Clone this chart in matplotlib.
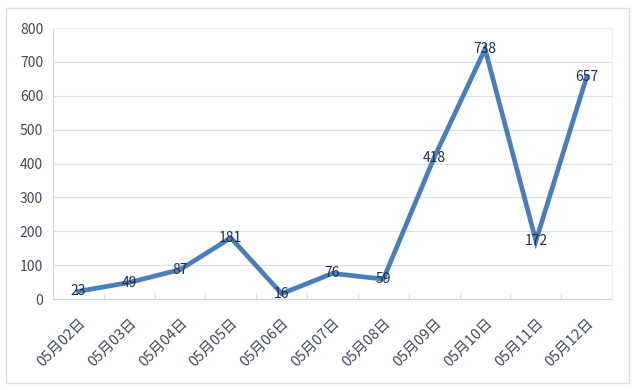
"""Line chart of daily counts, 05月02日 to 05月12日."""

import matplotlib

matplotlib.use("Agg")
import matplotlib.pyplot as plt
from matplotlib.patches import Rectangle

plt.rcParams["font.family"] = ["Noto Sans CJK SC", "DejaVu Sans"]

DATES = ["05月02日", "05月03日", "05月04日", "05月05日", "05月06日", "05月07日",
         "05月08日", "05月09日", "05月10日", "05月11日", "05月12日"]
COUNTS = [23, 49, 87, 181, 16, 76, 59, 418, 738, 172, 657]
Y_TICKS = [0, 100, 200, 300, 400, 500, 600, 700, 800]

LINE_COLOR = "#4A7EBB"
TEXT_COLOR = "#404A5C"
LABEL_COLOR = "#1F2F4F"
GRID_COLOR = "#D6E0EA"


def main() -> None:
    figure = plt.figure(figsize=(6.37, 3.9), dpi=100)
    axis = figure.add_axes([0.083, 0.233, 0.878, 0.695])

    positions = list(range(len(DATES)))
    axis.plot(positions, COUNTS, color=LINE_COLOR, linewidth=3.4,
              solid_joinstyle="miter", zorder=3)
    for x, value in zip(positions, COUNTS):
        axis.text(x, value, str(value), ha="center", va="center",
                  fontsize=10, color=LABEL_COLOR, zorder=4)

    axis.set_xlim(-0.5, len(DATES) - 0.5)
    axis.set_ylim(0, 800)
    axis.set_yticks(Y_TICKS)
    axis.set_yticklabels([str(v) for v in Y_TICKS], fontsize=10, color=TEXT_COLOR)
    axis.set_xticks(positions)
    axis.set_xticklabels(DATES, rotation=45, ha="right", va="top",
                         rotation_mode="anchor", fontsize=10.5, color=TEXT_COLOR)
    axis.tick_params(axis="x", length=0, pad=12)
    axis.tick_params(axis="y", length=0, pad=7)
    # small ticks between categories
    axis.set_xticks([p + 0.5 for p in positions[:-1]], minor=True)
    axis.tick_params(axis="x", which="minor", direction="in", length=4,
                     color="#D0D7DF")

    axis.grid(axis="y", color=GRID_COLOR, linewidth=0.9)
    axis.set_axisbelow(True)
    for side in ("top", "right"):
        axis.spines[side].set_color("#EEF2F6")
    axis.spines["left"].set_color("#D0D7DF")
    axis.spines["bottom"].set_color("#D0D7DF")

    figure.patches.append(Rectangle((6 / 637, 7 / 390), 623 / 637, 375 / 390,
                                    transform=figure.transFigure, fill=False,
                                    edgecolor="#D9DEE4", linewidth=1.0))
    figure.savefig("out.png", dpi=100)
    plt.close(figure)


if __name__ == "__main__":
    main()
